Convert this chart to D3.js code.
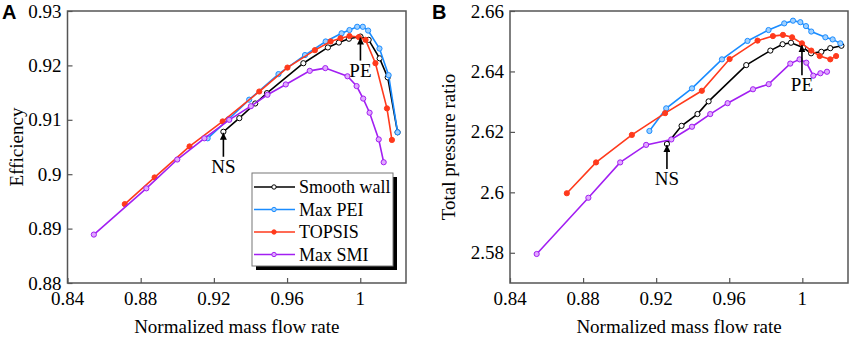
<!DOCTYPE html>
<html>
<head>
<meta charset="utf-8">
<script src="https://cdn.jsdelivr.net/npm/d3@7"></script>
<style>
  body { margin: 0; background: #fff; }
  svg { display: block; }
</style>
</head>
<body>
<svg id="chart" width="851" height="338"></svg>
<script>
// Efficiency and total pressure ratio vs normalized mass flow rate

// Panel A – efficiency, [normalized mass flow, efficiency]
const effSmooth = [[0.9252,0.9078],[0.9339,0.9103],[0.9426,0.9130],[0.9490,0.9149],[0.9689,0.9204],[0.9823,0.9233],[0.9883,0.9242],[0.9938,0.9249],[1.0001,0.9253],[1.0046,0.9247],[1.0106,0.9213],[1.0150,0.9178],[1.0204,0.9077]];
const effMaxPEI = [[0.9166,0.9066],[0.9280,0.9101],[0.9393,0.9137],[0.9553,0.9184],[0.9698,0.9219],[0.9811,0.9244],[0.9898,0.9259],[0.9941,0.9265],[0.9983,0.9271],[1.0014,0.9271],[1.0043,0.9264],[1.0105,0.9231],[1.0155,0.9182],[1.0204,0.9077]];
const effTopsis = [[0.8713,0.8945],[0.8876,0.8994],[0.9067,0.9051],[0.9248,0.9097],[0.9448,0.9152],[0.9602,0.9196],[0.9752,0.9228],[0.9838,0.9244],[0.9892,0.9250],[0.9941,0.9254],[0.9992,0.9252],[1.0029,0.9247],[1.0083,0.9204],[1.0146,0.9121],[1.0173,0.9063]];
const effMaxSMI = [[0.8544,0.8889],[0.8831,0.8974],[0.9000,0.9027],[0.9148,0.9066],[0.9284,0.9100],[0.9402,0.9125],[0.9493,0.9146],[0.9593,0.9165],[0.9724,0.9190],[0.9809,0.9195],[0.9930,0.9180],[0.9980,0.9162],[1.0016,0.9139],[1.0051,0.9113],[1.0101,0.9064],[1.0128,0.9022]];

// Panel B – total pressure ratio
const prSmooth = [[0.9259,2.6160],[0.9339,2.6220],[0.9426,2.6259],[0.9487,2.6301],[0.9693,2.6421],[0.9825,2.6469],[0.9892,2.6490],[0.9938,2.6495],[1.0004,2.6479],[1.0048,2.6460],[1.0104,2.6465],[1.0153,2.6477],[1.0214,2.6485]];
const prMaxPEI = [[0.9163,2.6203],[0.9255,2.6278],[0.9396,2.6344],[0.9560,2.6440],[0.9700,2.6501],[0.9815,2.6537],[0.9901,2.6559],[0.9949,2.6568],[0.9989,2.6563],[1.0020,2.6550],[1.0049,2.6532],[1.0126,2.6513],[1.0166,2.6506],[1.0208,2.6493]];
const prTopsis = [[0.8711,2.5997],[0.8871,2.6099],[0.9067,2.6190],[0.9249,2.6262],[0.9450,2.6336],[0.9602,2.6441],[0.9755,2.6502],[0.9839,2.6517],[0.9894,2.6521],[0.9944,2.6513],[0.9998,2.6493],[1.0049,2.6469],[1.0095,2.6451],[1.0153,2.6440],[1.0185,2.6451]];
const prMaxSMI = [[0.8546,2.5796],[0.8829,2.5982],[0.9003,2.6099],[0.9145,2.6157],[0.9283,2.6175],[0.9396,2.6217],[0.9496,2.6259],[0.9591,2.6295],[0.9730,2.6341],[0.9816,2.6358],[0.9934,2.6426],[0.9985,2.6440],[1.0022,2.6429],[1.0060,2.6386],[1.0099,2.6394],[1.0135,2.6399]];

const xTicks = [0.84, 0.88, 0.92, 0.96, 1];
const effTicks = [0.88, 0.89, 0.90, 0.91, 0.92, 0.93];
const prTicks = [2.58, 2.60, 2.62, 2.64, 2.66];
const seriesNames = ['Smooth wall', 'Max PEI', 'TOPSIS', 'Max SMI'];

// annotation points: [x, y]
const effNS = [0.9252, 0.9078], effPE = [1.0001, 0.9253];
const prNS = [0.9259, 2.6160], prPE = [0.9998, 2.6490];

const styles = [
    { color: '#000000', fill: '#ffffff' },
    { color: '#1a8cff', fill: '#9fd0ff' },
    { color: '#ff3a1c', fill: '#ff3a1c' },
    { color: '#a21ff2', fill: '#e0a8ff' }
];

const serif = '"Liberation Serif", "Times New Roman", serif';
const svg = d3.select('#chart');

const defs = svg.append('defs');
defs.append('marker')
    .attr('id', 'arrowHead')
    .attr('viewBox', '0 0 10 10')
    .attr('refX', 10)
    .attr('refY', 5)
    .attr('markerWidth', 7)
    .attr('markerHeight', 7)
    .attr('markerUnits', 'userSpaceOnUse')
    .attr('orient', 'auto')
    .append('path')
    .attr('d', 'M0,0 L10,5 L0,10 Z')
    .attr('fill', '#000');

function drawPanel(opts) {
    const x = d3.scaleLinear().domain([0.84, 1.025]).range([opts.left, opts.right]);
    const y = d3.scaleLinear().domain(opts.yDomain).range([283, 11]);
    const g = svg.append('g');

    // ticks (inward)
    const xAxis = d3.axisTop(x).tickValues(xTicks).tickSize(5).tickFormat('');
    g.append('g')
        .attr('transform', 'translate(0,283)')
        .call(xAxis)
        .call(a => a.select('.domain').remove())
        .selectAll('line').attr('stroke', '#555').attr('stroke-width', 1.2);

    const yAxis = d3.axisRight(y).tickValues(opts.yTicks).tickSize(5).tickFormat('');
    g.append('g')
        .attr('transform', `translate(${opts.left},0)`)
        .call(yAxis)
        .call(a => a.select('.domain').remove())
        .selectAll('line').attr('stroke', '#555').attr('stroke-width', 1.2);

    // tick labels
    g.selectAll('.xlab')
        .data(xTicks)
        .enter().append('text')
        .attr('x', d => x(d))
        .attr('y', 305)
        .attr('text-anchor', 'middle')
        .style('font-family', serif)
        .style('font-size', '19px')
        .text(d => d3.format('')(+d.toFixed(2)));

    g.selectAll('.ylab')
        .data(opts.yTicks)
        .enter().append('text')
        .attr('x', opts.left - 6)
        .attr('y', d => y(d) + 6.5)
        .attr('text-anchor', 'end')
        .style('font-family', serif)
        .style('font-size', '19px')
        .text(d => String(+d.toFixed(2)));

    // frame
    g.append('rect')
        .attr('x', opts.left)
        .attr('y', 11)
        .attr('width', opts.right - opts.left)
        .attr('height', 272)
        .attr('fill', 'none')
        .attr('stroke', '#555')
        .attr('stroke-width', 1.5);

    // series
    const line = d3.line().x(d => x(d[0])).y(d => y(d[1]));
    opts.series.forEach((s, i) => {
        g.append('path')
            .datum(s)
            .attr('d', line)
            .attr('fill', 'none')
            .attr('stroke', styles[i].color)
            .attr('stroke-width', 1.6);
        g.selectAll(null)
            .data(s)
            .enter().append('circle')
            .attr('cx', d => x(d[0]))
            .attr('cy', d => y(d[1]))
            .attr('r', 2.6)
            .attr('fill', styles[i].fill)
            .attr('stroke', styles[i].color)
            .attr('stroke-width', 1);
    });

    // NS / PE annotations
    opts.notes.forEach(n => {
        const px = x(n.pt[0]), py = y(n.pt[1]);
        g.append('line')
            .attr('x1', px).attr('y1', py + n.len)
            .attr('x2', px).attr('y2', py + 1)
            .attr('stroke', '#000')
            .attr('stroke-width', 1.6)
            .attr('marker-end', 'url(#arrowHead)');
        g.append('text')
            .attr('x', px + (n.dx || 0))
            .attr('y', py + n.len + 16)
            .attr('text-anchor', 'middle')
            .style('font-family', serif)
            .style('font-size', '19px')
            .text(n.label);
    });

    // axis titles
    g.append('text')
        .attr('x', (opts.left + opts.right) / 2)
        .attr('y', 333)
        .attr('text-anchor', 'middle')
        .style('font-family', serif)
        .style('font-size', '19px')
        .text('Normalized mass flow rate');

    g.append('text')
        .attr('transform', `translate(${opts.titleX},${147}) rotate(-90)`)
        .attr('text-anchor', 'middle')
        .style('font-family', serif)
        .style('font-size', '19px')
        .text(opts.yTitle);

    // panel letter
    g.append('text')
        .attr('x', opts.letterX)
        .attr('y', 19)
        .style('font-family', '"Liberation Sans", Arial, sans-serif')
        .style('font-weight', '700')
        .style('font-size', '20px')
        .text(opts.letter);

    return { x, y, g };
}

const panelA = drawPanel({
    left: 67.5, right: 406,
    yDomain: [0.88, 0.93], yTicks: effTicks,
    series: [effSmooth, effMaxPEI, effTopsis, effMaxSMI],
    notes: [{ pt: effNS, len: 25, label: 'NS' }, { pt: effPE, len: 24, label: 'PE' }],
    titleX: 23, yTitle: 'Efficiency',
    letter: 'A', letterX: 2
});

drawPanel({
    left: 510, right: 848,
    yDomain: [2.57, 2.66], yTicks: prTicks,
    series: [prSmooth, prMaxPEI, prTopsis, prMaxSMI],
    notes: [{ pt: prNS, len: 25, label: 'NS' }, { pt: prPE, len: 31, label: 'PE' }],
    titleX: 455, yTitle: 'Total pressure ratio',
    letter: 'B', letterX: 432
});

// Legend (panel A)
const legend = panelA.g.append('g').attr('transform', 'translate(252,173)');
legend.append('rect')
    .attr('x', 4).attr('y', 4)
    .attr('width', 141).attr('height', 93)
    .attr('fill', '#000');
legend.append('rect')
    .attr('x', 0).attr('y', 0)
    .attr('width', 141).attr('height', 93)
    .attr('fill', '#fff')
    .attr('stroke', '#777')
    .attr('stroke-width', 1);

seriesNames.forEach((name, i) => {
    const row = legend.append('g').attr('transform', `translate(0,${14 + i * 22.5})`);
    row.append('line')
        .attr('x1', 2).attr('x2', 43)
        .attr('y1', 0).attr('y2', 0)
        .attr('stroke', styles[i].color)
        .attr('stroke-width', 1.6);
    row.append('circle')
        .attr('cx', 22).attr('cy', 0).attr('r', 2.2)
        .attr('fill', styles[i].fill)
        .attr('stroke', styles[i].color)
        .attr('stroke-width', 1);
    row.append('text')
        .attr('x', 47)
        .attr('y', 6)
        .style('font-family', serif)
        .style('font-size', '18px')
        .text(name);
});
</script>
</body>
</html>
